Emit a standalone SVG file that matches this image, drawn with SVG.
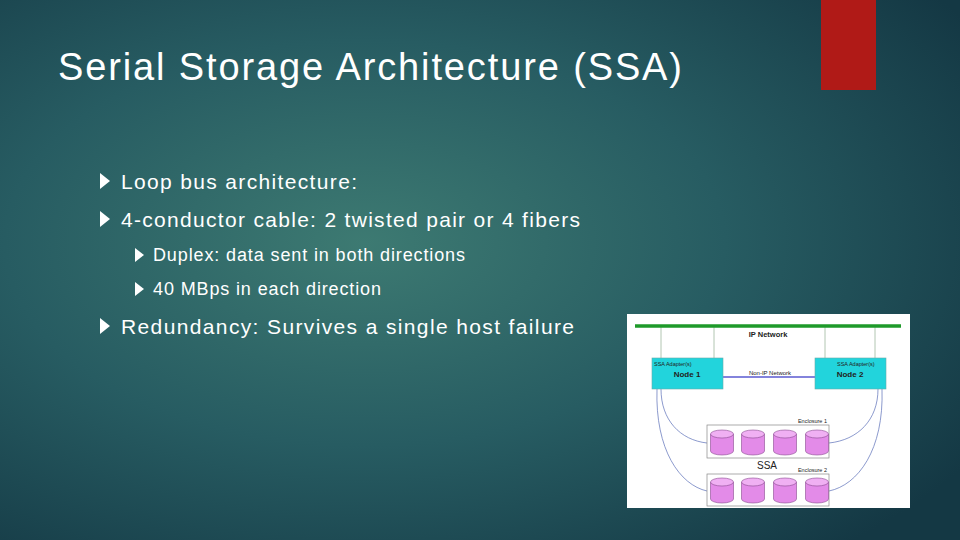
<svg xmlns="http://www.w3.org/2000/svg" width="960" height="540" viewBox="0 0 960 540">
<defs>
<radialGradient id="bg" cx="0.38" cy="0.45" r="0.75">
<stop offset="0" stop-color="#3d7a72"/><stop offset="0.5" stop-color="#275c62"/><stop offset="1" stop-color="#143844"/>
</radialGradient>
<g id="cyl"><path d="M-11.5,4 V21 A11.5,4 0 0 0 11.5,21 V4" fill="#e38be8" stroke="#8a4a90" stroke-width="0.6"/><ellipse cx="0" cy="4" rx="11.5" ry="4" fill="#f0b0f3" stroke="#8a4a90" stroke-width="0.6"/></g>
</defs>
<style>
.t{font-family:"Liberation Sans",Arial,sans-serif;fill:#fff}
.s{font-family:"Liberation Sans",Arial,sans-serif;fill:#222}
.c{fill:none;stroke:#5a6fb8;stroke-width:0.7}
</style>
<rect width="960" height="540" fill="url(#bg)"/>
<rect x="821" y="0" width="55" height="90" fill="#b01a17"/>
<text class="t" x="58" y="80" font-size="38" textLength="624" lengthAdjust="spacing">Serial Storage Architecture (SSA)</text>
<g class="t" font-size="21">
<path d="M100,173 l10,8 -10,8z" fill="#fff"/><text x="121" y="189" textLength="236" lengthAdjust="spacing">Loop bus architecture:</text>
<path d="M100,211 l10,8 -10,8z" fill="#fff"/><text x="121" y="227" textLength="459" lengthAdjust="spacing">4-conductor cable: 2 twisted pair or 4 fibers</text>
<path d="M100,318 l10,8 -10,8z" fill="#fff"/><text x="121" y="334" textLength="453" lengthAdjust="spacing">Redundancy: Survives a single host failure</text>
</g>
<g class="t" font-size="18">
<path d="M135,248 l9,7 -9,7z" fill="#fff"/><text x="153" y="261" textLength="312" lengthAdjust="spacing">Duplex: data sent in both directions</text>
<path d="M135,282 l9,7 -9,7z" fill="#fff"/><text x="153" y="295" textLength="228" lengthAdjust="spacing">40 MBps in each direction</text>
</g>
<rect x="627" y="314" width="283" height="194" fill="#fff"/>
<g id="connectors">
<line x1="661" y1="326" x2="661" y2="358" stroke="#9fb89f" stroke-width="0.8"/>
<line x1="714" y1="326" x2="714" y2="358" stroke="#9fb89f" stroke-width="0.8"/>
<line x1="825" y1="326" x2="825" y2="358" stroke="#9fb89f" stroke-width="0.8"/>
<line x1="875" y1="326" x2="875" y2="358" stroke="#9fb89f" stroke-width="0.8"/>
<line x1="723" y1="377" x2="815" y2="377" stroke="#5a5ad0" stroke-width="1.5"/>
<path class="c" d="M661,365 V389 C661,420 680,440 707,443"/>
<path class="c" d="M657,365 V389 C655,450 680,485 707,491"/>
<path class="c" d="M878,365 V389 C878,420 858,440 829,443"/>
<path class="c" d="M882,365 V389 C884,450 858,485 829,491"/>
</g>
<g id="ipnet"><line x1="635" y1="326" x2="901" y2="326" stroke="#1e9a2a" stroke-width="3.5"/>
<text class="s" x="768" y="337" font-size="7.5" text-anchor="middle" font-weight="bold">IP Network</text></g>
<text class="s" x="770" y="375" font-size="6" text-anchor="middle">Non-IP Network</text>
<g id="node1"><rect x="652" y="358" width="71" height="31" fill="#22d4dc" stroke="#6aa" stroke-width="0.6"/>
<text class="s" x="654" y="366" font-size="5.5">SSA Adapter(s)</text><text class="s" x="687" y="377" font-size="8" font-weight="bold" text-anchor="middle">Node 1</text></g>
<g id="node2"><rect x="815" y="358" width="71" height="31" fill="#22d4dc" stroke="#6aa" stroke-width="0.6"/>
<text class="s" x="837" y="366" font-size="5.5">SSA Adapter(s)</text><text class="s" x="850" y="377" font-size="8" font-weight="bold" text-anchor="middle">Node 2</text></g>
<g id="enc1"><rect x="707" y="425" width="122" height="33" fill="#fff" stroke="#888" stroke-width="0.7"/>
<text class="s" x="827" y="423" font-size="5.5" text-anchor="end">Enclosure 1</text>
<use href="#cyl" x="722" y="430"/><use href="#cyl" x="753" y="430"/><use href="#cyl" x="785" y="430"/><use href="#cyl" x="817" y="430"/></g>
<text class="s" x="767" y="469" font-size="10" text-anchor="middle">SSA</text>
<g id="enc2"><rect x="707" y="474" width="122" height="32" fill="#fff" stroke="#888" stroke-width="0.7"/>
<text class="s" x="827" y="472" font-size="5.5" text-anchor="end">Enclosure 2</text>
<use href="#cyl" x="722" y="478"/><use href="#cyl" x="753" y="478"/><use href="#cyl" x="785" y="478"/><use href="#cyl" x="817" y="478"/></g>
</svg>
